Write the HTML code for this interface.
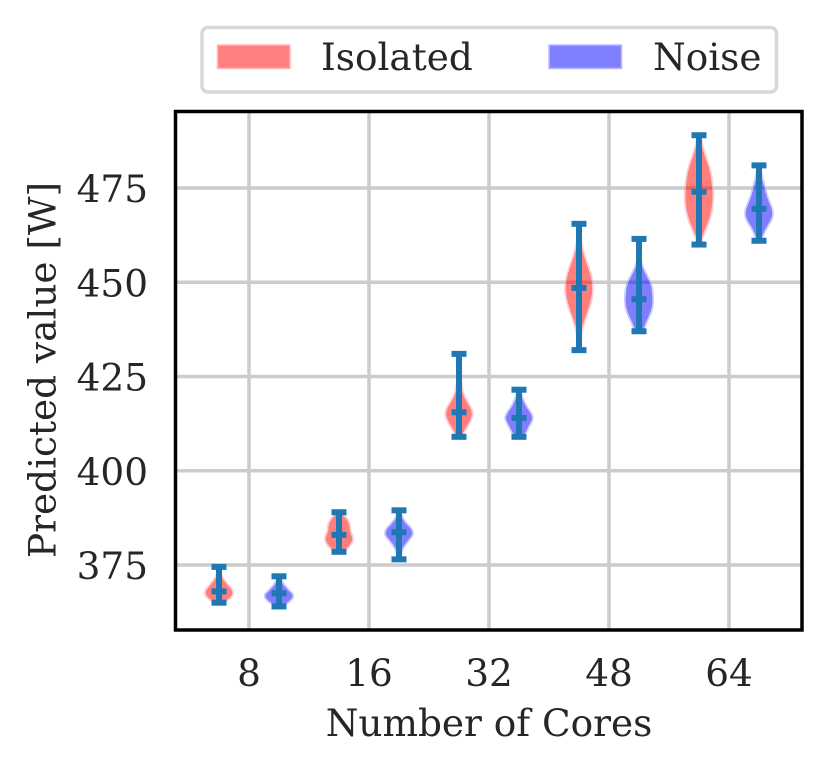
<!DOCTYPE html>
<html>
<head>
<meta charset="utf-8">
<style>
html,body{margin:0;padding:0;background:#fff;width:829px;height:771px;overflow:hidden}
svg{display:block}
text{font-family:"DejaVu Serif","Liberation Serif",serif;fill:#262626}
</style>
</head>
<body>
<svg id="chart" width="829" height="771" viewBox="0 0 829 771" xmlns="http://www.w3.org/2000/svg">
  <g id="grid"></g>
  <g id="violins"></g>
  <rect x="175.500" y="111.500" width="626.500" height="518.500" fill="none" stroke="#000" stroke-width="3.500"/>
  <g id="xticks"></g>
  <g id="yticks"></g>
  <text x="489" y="736" text-anchor="middle" font-size="37.400">Number of Cores</text>
  <text transform="translate(55.500,370) rotate(-90)" text-anchor="middle" font-size="37.400">Predicted value [W]</text>
  <g>
    <rect x="202" y="27.500" width="574.500" height="64.500" rx="6" fill="#fff" stroke="#d8d8d8" stroke-width="3.500"/>
    <rect x="217.500" y="45" width="72.500" height="23.500" fill="#ff8080" stroke="#ffb8b8" stroke-width="1.500"/>
    <text x="321" y="70" font-size="37.400">Isolated</text>
    <rect x="549" y="45" width="72.500" height="23.500" fill="#8080ff" stroke="#b8b8ff" stroke-width="1.500"/>
    <text x="653" y="70" font-size="37.400">Noise</text>
  </g>
</svg>
<script>
const categories = [8, 16, 32, 48, 64];
const yTickValues = [375, 400, 425, 450, 475];

const isolatedMin = [365, 378.5, 409, 432, 460];
const isolatedMax = [374.5, 389, 431, 465.5, 489];
const isolatedMean = [368, 383, 415.5, 448.5, 474];
const noiseMin = [364, 376.5, 409, 437, 461];
const noiseMax = [372, 389.5, 421.5, 461.5, 481];
const noiseMean = [367.5, 383.7, 414, 445.5, 469.5];

// Relative density, sampled evenly from each violin's min to its max
const isolatedDensity8 = [.3, .65, .95, 1, .85, .6, .4, .2, .1, .03, 0];
const isolatedDensity16 = [.2, .6, .85, 1, .95, .8, .78, .75, .6, .35, .1];
const isolatedDensity32 = [.15, .45, .85, 1, .65, .3, .15, .07, .03, .01, 0];
const isolatedDensity48 = [0, .05, .25, .6, .9, 1, .85, .5, .2, .05, 0];
const isolatedDensity64 = [.03, .3, .65, .9, 1, 1, .9, .75, .45, .2, .02];
const noiseDensity8 = [.2, .5, .8, 1, 1, .75, .55, .35, .2, .08, .02];
const noiseDensity16 = [.02, .08, .2, .4, .7, 1, .95, .6, .3, .1, .02];
const noiseDensity32 = [.25, .5, .65, .85, 1, .85, .6, .4, .25, .1, .02];
const noiseDensity48 = [.25, .5, .85, 1, .98, .9, .55, .2, .03, .01, 0];
const noiseDensity64 = [.1, .3, .6, .95, 1, .75, .55, .4, .25, .1, .02];

const isolatedDensities = [isolatedDensity8, isolatedDensity16, isolatedDensity32, isolatedDensity48, isolatedDensity64];
const noiseDensities = [noiseDensity8, noiseDensity16, noiseDensity32, noiseDensity48, noiseDensity64];

const NS = 'http://www.w3.org/2000/svg';
const plotLeft = 175, plotRight = 802, plotTop = 111, plotBottom = 630;
const groupOffset = 30, maxHalfWidth = 13.5, capHalf = 7.5;

function xScale(i) { return 249 + i * 120; }
function yScale(v) { return 565 - (v - 375) * 3.77; }

function make(tag, parent, attrs) {
  const el = document.createElementNS(NS, tag);
  for (const k in attrs) el.setAttribute(k, attrs[k]);
  parent.appendChild(el);
  return el;
}

const gridG = document.getElementById('grid');
const xTicksG = document.getElementById('xticks');
const yTicksG = document.getElementById('yticks');
const violinsG = document.getElementById('violins');

categories.forEach(function (c, i) {
  const x = xScale(i);
  const line = make('line', gridG, { x1: x, x2: x, y1: plotTop, y2: plotBottom, stroke: '#cccccc', 'stroke-width': 3.5 });
  
  
  const label = make('text', xTicksG, { x: x, y: 686, 'text-anchor': 'middle', 'font-size': 37.4 });
  
  
  label.textContent = c;
});

yTickValues.forEach(function (v) {
  const y = yScale(v);
  const line = make('line', gridG, { x1: plotLeft, x2: plotRight, y1: y, y2: y, stroke: '#cccccc', 'stroke-width': 3.5 });
  
  
  const label = make('text', yTicksG, { x: 148, y: y + 14, 'text-anchor': 'end', 'font-size': 37.4 });
  
  
  label.textContent = v;
});

function violinPath(cx, lo, hi, density) {
  const n = density.length - 1;
  const right = density.map(function (d, k) {
    return [cx + d * maxHalfWidth, yScale(lo + (hi - lo) * k / n)];
  });
  const left = density.map(function (d, k) {
    return [cx - d * maxHalfWidth, yScale(lo + (hi - lo) * k / n)];
  }).reverse();
  const pts = right.concat(left);
  let p = 'M' + pts[0][0] + ' ' + pts[0][1];
  for (let k = 1; k < pts.length - 1; k++) {
    const mx = (pts[k][0] + pts[k + 1][0]) / 2;
    const my = (pts[k][1] + pts[k + 1][1]) / 2;
    p += 'Q' + pts[k][0] + ' ' + pts[k][1] + ' ' + mx + ' ' + my;
  }
  p += 'L' + pts[pts.length - 1][0] + ' ' + pts[pts.length - 1][1] + 'Z';
  return p;
}

function drawSeries(offset, color, edge, mins, maxs, densities) {
  categories.forEach(function (c, i) {
    const cx = xScale(i) + offset;
    const body = make('path', violinsG, {
      d: violinPath(cx, mins[i], maxs[i], densities[i]),
      fill: color, stroke: edge, 'stroke-width': 3.5, opacity: .5, 'paint-order': 'stroke'
    });
    
    
  });
}

function drawBars(offset, mins, maxs, means) {
  categories.forEach(function (c, i) {
    const cx = xScale(i) + offset;
    const stem = make('line', violinsG, { x1: cx, x2: cx, y1: yScale(mins[i]), y2: yScale(maxs[i]), stroke: '#1f77b4', 'stroke-width': 6 });
    
    
    [mins[i], maxs[i], means[i]].forEach(function (v) {
      const cap = make('line', violinsG, { x1: cx - capHalf, x2: cx + capHalf, y1: yScale(v), y2: yScale(v), stroke: '#1f77b4', 'stroke-width': 6 });
      
      
    });
  });
}

drawSeries(-groupOffset, '#ff0000', '#ff9c9c', isolatedMin, isolatedMax, isolatedDensities);
drawSeries(groupOffset, '#0000ff', '#9c9cff', noiseMin, noiseMax, noiseDensities);
drawBars(-groupOffset, isolatedMin, isolatedMax, isolatedMean);
drawBars(groupOffset, noiseMin, noiseMax, noiseMean);
</script>
</body>
</html>
